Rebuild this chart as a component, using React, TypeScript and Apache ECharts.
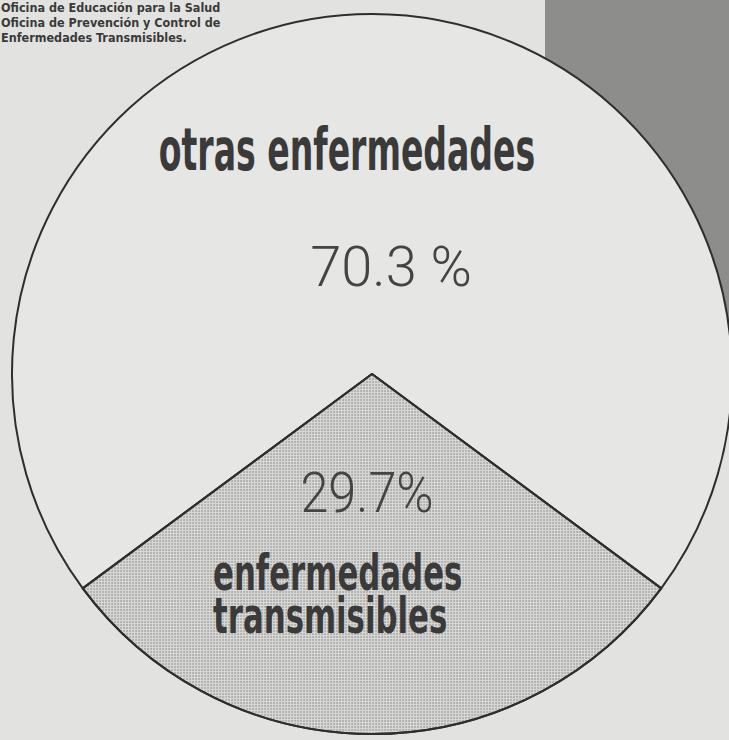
import React, { useEffect, useRef } from "react";
import * as echarts from "echarts";

const categories = ["otras enfermedades", "enfermedades transmisibles"];
const values = [70.3, 29.7];
const categoryLabelLines = [["otras enfermedades"], ["enfermedades", "transmisibles"]];
const percentSuffix = [" %", "%"];
const captionLines = [
  "Oficina de Educación para la Salud",
  "Oficina de Prevención y Control de",
  "Enfermedades Transmisibles.",
];

export default function App() {
  const ref = useRef<HTMLDivElement>(null);
  useEffect(() => {
    document.body.style.margin = "0";
    if (!ref.current) return;
    const chart = echarts.init(ref.current, undefined, { renderer: "svg" });
    const total = values.reduce((a, b) => a + b, 0);
    const startAngle = 90 + (360 * (values[0] + values[1] / 2)) / total - 180;
    const condensed = "'DejaVu Sans Condensed', 'DejaVu Sans', sans-serif";
    const ink = "#3a3a3a";
    chart.setOption({
      animation: false,
      backgroundColor: "#e2e2e0",
      graphic: [
        { type: "rect", z: 0, shape: { x: 545, y: 0, width: 200, height: 330 }, style: { fill: "#8d8d8b" } },
        ...captionLines.map((t, i) => ({
          type: "text",
          z: 100,
          x: 1,
          y: 1 + i * 15,
          scaleX: 1.0,
          style: {
            text: t,
            fill: ink,
            font: `bold 12.5px ${condensed}`,
            align: "left",
            verticalAlign: "top",
          },
        })),
        {
          type: "text",
          z: 100,
          x: 347,
          y: 150,
          scaleX: 1.15,
          scaleY: 1.85,
          style: {
            text: categoryLabelLines[0][0],
            fill: ink,
            font: `bold 32px ${condensed}`,
            align: "center",
            verticalAlign: "middle",
          },
        },
        {
          type: "text",
          z: 100,
          x: 391,
          y: 267,
          style: {
            text: `${values[0]}${percentSuffix[0]}`,
            fill: "#444",
            font: `300 56px Roboto, Lato, sans-serif`,
            align: "center",
            verticalAlign: "middle",
          },
        },
        {
          type: "text",
          z: 100,
          x: 367,
          y: 493,
          scaleX: 0.9,
          style: {
            text: `${values[1]}${percentSuffix[1]}`,
            fill: "#444",
            font: `300 56px Roboto, Lato, sans-serif`,
            align: "center",
            verticalAlign: "middle",
          },
        },
        ...categoryLabelLines[1].map((t, i) => ({
          type: "text",
          z: 100,
          x: 213,
          y: 573 + i * 43,
          scaleX: 1.07,
          scaleY: 1.55,
          style: {
            text: t,
            fill: ink,
            font: `bold 32px ${condensed}`,
            align: "left",
            verticalAlign: "middle",
          },
        })),
      ],
      series: [
        {
          type: "pie",
          z: 2,
          center: [372, 374],
          radius: 360,
          startAngle,
          clockwise: true,
          silent: true,
          label: { show: false },
          labelLine: { show: false },
          itemStyle: { borderColor: "#2e2e2e", borderWidth: 2 },
          data: [
            { name: categories[0], value: values[0], itemStyle: { color: "#e6e6e4" } },
            {
              name: categories[1],
              value: values[1],
              itemStyle: {
                color: "#d8d8d6",
                decal: {
                  symbol: "circle",
                  symbolSize: 1,
                  color: "rgba(90,90,90,0.35)",
                  dashArrayX: [2, 1],
                  dashArrayY: [2, 1],
                  rotation: 0,
                },
              },
            },
          ],
        },
      ],
    });
    return () => chart.dispose();
  }, []);
  return <div ref={ref} style={{ width: 729, height: 740 }} />;
}
